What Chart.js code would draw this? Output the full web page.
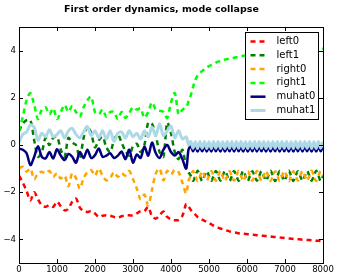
<!DOCTYPE html>
<html>
<head>
<meta charset="utf-8">
<script src="https://cdn.jsdelivr.net/npm/chart.js@4.4.1/dist/chart.umd.min.js"></script>
<style>
  html, body { margin: 0; padding: 0; background: #fff; }
</style>
</head>
<body>
<canvas id="myChart" width="339" height="279"></canvas>
<script>
// time steps: every 100 up to 4400, then every 60 (the fast wiggle part)
const steps = [
  0, 100, 200, 300, 400, 500, 600, 700, 800, 900,
  1000, 1100, 1200, 1300, 1400, 1500, 1600, 1700, 1800, 1900,
  2000, 2100, 2200, 2300, 2400, 2500, 2600, 2700, 2800, 2900,
  3000, 3100, 3200, 3300, 3400, 3500, 3600, 3700, 3800, 3900,
  4000, 4100, 4200, 4300, 4400,
  4460, 4520, 4580, 4640, 4700, 4760, 4820, 4880, 4940, 5000,
  5060, 5120, 5180, 5240, 5300, 5360, 5420, 5480, 5540, 5600,
  5660, 5720, 5780, 5840, 5900, 5960, 6020, 6080, 6140, 6200,
  6260, 6320, 6380, 6440, 6500, 6560, 6620, 6680, 6740, 6800,
  6860, 6920, 6980, 7040, 7100, 7160, 7220, 7280, 7340, 7400,
  7460, 7520, 7580, 7640, 7700, 7760, 7820, 7880, 7940, 8000
];

const left0 = [
  -1.3, -1.6, -1.95, -2.35, -2.0, -2.3, -2.55, -2.62, -2.55, -2.62,
  -2.4, -2.6, -2.77, -2.7, -2.4, -2.27, -2.65, -2.8, -2.84, -2.8,
  -2.9, -3.05, -3.0, -2.98, -3.0, -3.05, -3.08, -3.02, -2.98, -2.98,
  -2.98, -2.9, -2.8, -2.8, -2.62, -3.02, -3.12, -2.98, -2.82, -3.05,
  -3.15, -3.19, -3.17, -3.0, -2.5,
  -2.6, -2.75, -2.86, -2.95, -3.05, -3.1, -3.16, -3.21, -3.26, -3.3,
  -3.36, -3.42, -3.46, -3.5, -3.54, -3.57, -3.6, -3.63, -3.66, -3.68,
  -3.7, -3.72, -3.74, -3.75, -3.76, -3.77, -3.78, -3.79, -3.8, -3.81,
  -3.82, -3.83, -3.84, -3.85, -3.86, -3.87, -3.88, -3.89, -3.9, -3.91,
  -3.92, -3.93, -3.94, -3.95, -3.96, -3.97, -3.98, -3.99, -3.99, -4.0,
  -4.01, -4.02, -4.03, -4.03, -4.04, -4.05, -4.06, -4.06, -4.07, -4.08
];

const left1 = [
  0.6, 0.9, 1.05, 1.05, 0.2, -0.5, -0.3, 0.3, 0.0, 0.3,
  0.35, -0.2, -0.5, 0.3, 0.1, 0.0, -0.55, 0.3, 0.8, 0.5,
  -0.1, 0.2, 0.35, -0.1, -0.3, 0.2, 0.45, 0.1, -0.25, -0.45,
  -0.05, 0.05, -0.3, 0.0, 0.95, 0.9, 0.4, -0.3, -0.5, 0.95,
  0.5, -0.3, -0.6, -0.2, -0.95,
  -1.15, -1.3, -1.52, -1.32, -1.09, -1.31, -1.53, -1.3, -1.11, -1.31,
  -1.52, -1.32, -1.1, -1.3, -1.51, -1.31, -1.09, -1.3, -1.53, -1.32,
  -1.1, -1.3, -1.52, -1.32, -1.09, -1.31, -1.53, -1.3, -1.11, -1.31,
  -1.52, -1.32, -1.1, -1.3, -1.51, -1.31, -1.09, -1.3, -1.53, -1.32,
  -1.1, -1.3, -1.52, -1.32, -1.09, -1.31, -1.53, -1.3, -1.11, -1.31,
  -1.52, -1.32, -1.1, -1.3, -1.51, -1.31, -1.09, -1.3, -1.53, -1.32
];

const right0 = [
  -1.0, -0.92, -1.13, -1.0, -1.45, -1.2, -1.13, -1.2, -1.1, -1.35,
  -1.2, -1.42, -1.3, -1.75, -1.2, -1.4, -1.85, -1.4, -1.15, -1.06,
  -1.3, -1.0, -1.3, -1.5, -1.4, -1.15, -1.35, -1.2, -1.3, -1.1,
  -1.45, -1.85, -2.3, -2.1, -2.55, -1.9, -1.2, -1.0, -1.5, -1.1,
  -1.25, -1.05, -1.15, -1.6, -2.05,
  -1.52, -1.31, -1.1, -1.3, -1.53, -1.32, -1.11, -1.3, -1.51, -1.31,
  -1.1, -1.3, -1.52, -1.31, -1.09, -1.32, -1.53, -1.3, -1.11, -1.31,
  -1.52, -1.31, -1.1, -1.3, -1.53, -1.32, -1.11, -1.3, -1.51, -1.31,
  -1.1, -1.3, -1.52, -1.31, -1.09, -1.32, -1.53, -1.3, -1.11, -1.31,
  -1.52, -1.31, -1.1, -1.3, -1.53, -1.32, -1.11, -1.3, -1.51, -1.31,
  -1.1, -1.3, -1.52, -1.31, -1.09, -1.32, -1.53, -1.3, -1.11, -1.31
];

const right1 = [
  0.6, 1.2, 1.9, 2.2, 1.7, 1.1, 1.5, 1.6, 1.3, 1.55,
  1.1, 1.4, 1.7, 1.4, 1.65, 1.4, 1.2, 1.6, 1.9, 2.05,
  1.4, 1.3, 1.5, 1.2, 1.4, 1.4, 1.1, 1.4, 1.15, 1.35,
  1.6, 1.5, 1.55, 1.15, 1.4, 1.8, 1.5, 1.45, 1.4, 1.15,
  1.8, 2.2, 1.3, 1.5, 1.6,
  1.85, 2.1, 2.45, 2.75, 2.95, 3.05, 3.14, 3.21, 3.28, 3.34,
  3.39, 3.44, 3.49, 3.53, 3.56, 3.59, 3.62, 3.64, 3.66, 3.68,
  3.7, 3.72, 3.74, 3.76, 3.78, 3.79, 3.8, 3.81, 3.82, 3.83,
  3.84, 3.85, 3.86, 3.87, 3.88, 3.89, 3.9, 3.91, 3.92, 3.93,
  3.94, 3.95, 3.96, 3.97, 3.97, 3.98, 3.99, 4.0, 4.0, 4.01,
  4.02, 4.03, 4.03, 4.04, 4.05, 4.05, 4.06, 4.07, 4.07, 4.08
];

const muhat0 = [
  -0.15, -0.2, -0.35, -0.85, -0.5, -0.05, -0.5, -0.57, -0.3, -0.57,
  -0.18, -0.45, -0.64, -0.38, -0.5, -0.75, -0.3, -0.55, -0.2, -0.55,
  -0.43, -0.15, -0.5, -0.45, -0.35, -0.55, -0.45, -0.28, -0.6, -0.2,
  -0.75, -0.4, -0.55, -0.07, -0.45, 0.1, -0.35, -0.55, -0.2, 0.0,
  -0.3, -0.45, -0.3, -0.6, -1.0,
  -0.2, -0.05, -0.27, -0.06, -0.28, -0.05, -0.27, -0.05, -0.28, -0.06,
  -0.28, -0.05, -0.27, -0.06, -0.28, -0.05, -0.28, -0.06, -0.27, -0.05,
  -0.28, -0.05, -0.27, -0.06, -0.28, -0.05, -0.28, -0.06, -0.27, -0.05,
  -0.28, -0.05, -0.27, -0.06, -0.28, -0.05, -0.28, -0.06, -0.27, -0.05,
  -0.28, -0.05, -0.27, -0.06, -0.28, -0.05, -0.28, -0.06, -0.27, -0.05,
  -0.28, -0.05, -0.27, -0.06, -0.28, -0.05, -0.28, -0.06, -0.27, -0.05
];

const muhat1 = [
  0.1, 0.45, 0.55, 0.85, 0.75, 0.2, 0.5, 0.35, 0.65, 0.35,
  0.45, 0.6, 0.3, 0.6, 0.7, 0.45, 0.3, 0.55, 0.78, 0.4,
  0.6, 0.3, 0.6, 0.25, 0.6, 0.15, 0.5, 0.55, 0.3, 0.6,
  0.35, 0.5, 0.25, 0.6, 0.35, 0.75, 0.4, 0.9, 0.4, 0.6,
  0.8, 0.3, 0.6, 0.25, 0.35,
  0.0, 0.15, -0.14, 0.14, -0.15, 0.15, -0.14, 0.15, -0.15, 0.14,
  -0.15, 0.15, -0.14, 0.15, -0.15, 0.14, -0.15, 0.15, -0.14, 0.15,
  -0.15, 0.15, -0.14, 0.15, -0.15, 0.14, -0.15, 0.15, -0.14, 0.15,
  -0.15, 0.15, -0.14, 0.15, -0.15, 0.14, -0.15, 0.15, -0.14, 0.15,
  -0.15, 0.15, -0.14, 0.15, -0.15, 0.14, -0.15, 0.15, -0.14, 0.15,
  -0.15, 0.15, -0.14, 0.15, -0.15, 0.14, -0.15, 0.15, -0.14, 0.15
];

const xTicks = [0, 1000, 2000, 3000, 4000, 5000, 6000, 7000, 8000];
const yTicks = [-4, -2, 0, 2, 4];

const FONT = 'DejaVu Sans';
Chart.defaults.font.family = FONT;
Chart.defaults.color = '#000';

function pts(vals) {
  return steps.map((t, i) => ({ x: t, y: vals[i] }));
}

function series(label, vals, color, dash, width, order) {
  return {
    label: label,
    data: pts(vals),
    borderColor: color,
    borderWidth: width,
    borderDash: dash,
    borderCapStyle: 'butt',
    pointRadius: 0,
    tension: 0.3,
    fill: false,
    order: order
  };
}

// inside ticks, box and legend, matplotlib classic style
const framePlugin = {
  id: 'frame',
  afterDatasetsDraw(chart) {
    const ctx = chart.ctx;
    const a = chart.chartArea;
    const xs = chart.scales.x, ys = chart.scales.y;
    ctx.save();
    ctx.strokeStyle = '#000';
    ctx.lineWidth = 1;
    ctx.beginPath();
    xTicks.forEach(v => {
      const px = Math.round(xs.getPixelForValue(v)) + 0.5;
      ctx.moveTo(px, a.bottom); ctx.lineTo(px, a.bottom - 4);
      ctx.moveTo(px, a.top); ctx.lineTo(px, a.top + 4);
    });
    yTicks.forEach(v => {
      const py = Math.round(ys.getPixelForValue(v)) + 0.5;
      ctx.moveTo(a.left, py); ctx.lineTo(a.left + 4, py);
      ctx.moveTo(a.right, py); ctx.lineTo(a.right - 4, py);
    });
    ctx.stroke();
    ctx.strokeRect(Math.round(a.left) + 0.5, Math.round(a.top) + 0.5,
      Math.round(a.right - a.left), Math.round(a.bottom - a.top));

    // legend box
    const bw = 73, bh = 87;
    const bx = Math.round(a.right) - 4.5 - bw, by = Math.round(a.top) + 5.5;
    ctx.fillStyle = '#fff';
    ctx.fillRect(bx, by, bw, bh);
    ctx.strokeRect(bx, by, bw, bh);
    ctx.font = '10px "' + FONT + '"';
    ctx.textBaseline = 'middle';
    chart.data.datasets.forEach((ds, i) => {
      const y = by + 9 + i * 13.8;
      ctx.save();
      ctx.strokeStyle = ds.borderColor;
      ctx.lineWidth = ds.borderWidth;
      ctx.setLineDash(ds.borderDash);
      ctx.beginPath();
      ctx.moveTo(bx + 5, y);
      ctx.lineTo(bx + 20, y);
      ctx.stroke();
      ctx.restore();
      ctx.fillStyle = '#000';
      ctx.fillText(ds.label, bx + 31, y);
    });
    ctx.restore();
  }
};

new Chart(document.getElementById('myChart'), {
  type: 'line',
  data: {
    datasets: [
      series('left0', left0, '#ff0000', [5, 4], 2.5, 6),
      series('left1', left1, '#008000', [5, 4], 2.5, 5),
      series('right0', right0, '#ffa500', [5, 4], 2.5, 4),
      series('right1', right1, '#00ff00', [5, 4], 2.5, 3),
      series('muhat0', muhat0, '#000080', [], 2.5, 2),
      series('muhat1', muhat1, '#add8e6', [], 3, 1)
    ]
  },
  options: {
    responsive: false,
    devicePixelRatio: 1,
    animation: false,
    layout: { padding: { left: 0, right: 16, top: 0, bottom: 0 } },
    plugins: {
      legend: { display: false },
      tooltip: { enabled: false },
      title: {
        display: true,
        text: 'First order dynamics, mode collapse',
        color: '#000',
        font: { family: FONT, size: 9.5, weight: 'bold' },
        padding: { top: 4, bottom: 11.6 }
      }
    },
    scales: {
      x: {
        type: 'linear',
        min: 0,
        max: 8000,
        afterBuildTicks: s => { s.ticks = xTicks.map(v => ({ value: v })); },
        afterFit: s => { s.height = 16; },
        grid: { display: false, drawTicks: false },
        border: { display: false },
        ticks: {
          padding: 2,
          maxRotation: 0,
          autoSkip: false,
          font: { family: FONT, size: 8.5 },
          color: '#000',
          callback: v => String(v)
        }
      },
      y: {
        min: -5,
        max: 5,
        afterBuildTicks: s => { s.ticks = yTicks.map(v => ({ value: v })); },
        afterFit: s => { s.width = 19; },
        grid: { display: false, drawTicks: false },
        border: { display: false },
        ticks: {
          padding: 3,
          font: { family: FONT, size: 8.5 },
          color: '#000',
          callback: v => (v < 0 ? '\u2212' + Math.abs(v) : String(v))
        }
      }
    }
  },
  plugins: [framePlugin]
});
</script>
</body>
</html>
